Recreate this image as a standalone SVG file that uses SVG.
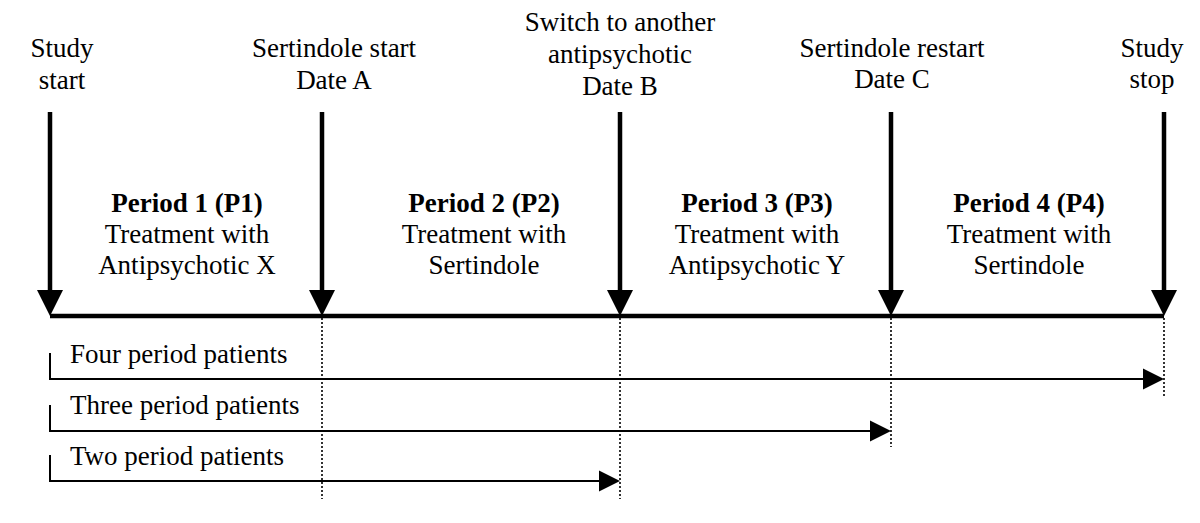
<svg xmlns="http://www.w3.org/2000/svg" width="1200" height="523" viewBox="0 0 1200 523">
<style>
text{font-family:"Liberation Serif","Times New Roman",serif;font-size:27px;fill:#000}
.c{text-anchor:middle}
.b{font-weight:bold}
.big{stroke:#000;stroke-width:4.5;fill:none}
.thin{stroke:#000;stroke-width:2;fill:none}
.dot{stroke:#000;stroke-width:1.6;stroke-dasharray:2 2;fill:none}
.head{fill:#000}
</style>
<rect width="1200" height="523" fill="#fff"/>
<g id="connectors">
  <line class="big" x1="50" y1="316" x2="1164" y2="316"/>
  <line class="big" x1="50" y1="112" x2="50" y2="292"/>
  <polygon class="head" points="37,290 63,290 50,316"/>
  <line class="big" x1="322" y1="112" x2="322" y2="292"/>
  <polygon class="head" points="309,290 335,290 322,316"/>
  <line class="big" x1="620" y1="112" x2="620" y2="292"/>
  <polygon class="head" points="607,290 633,290 620,316"/>
  <line class="big" x1="891" y1="112" x2="891" y2="292"/>
  <polygon class="head" points="878,290 904,290 891,316"/>
  <line class="big" x1="1164" y1="112" x2="1164" y2="292"/>
  <polygon class="head" points="1151,290 1177,290 1164,316"/>
  <line class="dot" x1="322" y1="318" x2="322" y2="499"/>
  <line class="dot" x1="620" y1="318" x2="620" y2="499"/>
  <line class="dot" x1="891" y1="318" x2="891" y2="447"/>
  <line class="dot" x1="1164" y1="318" x2="1164" y2="396"/>
  <polyline class="thin" points="50,353 50,379 1145,379"/>
  <polygon class="head" points="1143,368.5 1164,379 1143,389.5"/>
  <polyline class="thin" points="50,405 50,431 872,431"/>
  <polygon class="head" points="870,420.5 891,431 870,441.5"/>
  <polyline class="thin" points="50,455 50,481 601,481"/>
  <polygon class="head" points="599,470.5 620,481 599,491.5"/>
</g>
<g id="study-start"><text class="c" x="62" y="57">Study</text><text class="c" x="62" y="89">start</text></g>
<g id="date-a"><text class="c" x="334" y="57">Sertindole start</text><text class="c" x="334" y="89">Date A</text></g>
<g id="date-b"><text class="c" x="620" y="31">Switch to another</text><text class="c" x="620" y="63">antipsychotic</text><text class="c" x="620" y="95">Date B</text></g>
<g id="date-c"><text class="c" x="892" y="57">Sertindole restart</text><text class="c" x="892" y="88">Date C</text></g>
<g id="study-stop"><text class="c" x="1152" y="57">Study</text><text class="c" x="1152" y="88">stop</text></g>
<g id="period1"><text class="c b" x="187" y="212">Period 1 (P1)</text><text class="c" x="187" y="243">Treatment with</text><text class="c" x="187" y="274">Antipsychotic X</text></g>
<g id="period2"><text class="c b" x="484" y="212">Period 2 (P2)</text><text class="c" x="484" y="243">Treatment with</text><text class="c" x="484" y="274">Sertindole</text></g>
<g id="period3"><text class="c b" x="757" y="212">Period 3 (P3)</text><text class="c" x="757" y="243">Treatment with</text><text class="c" x="757" y="274">Antipsychotic Y</text></g>
<g id="period4"><text class="c b" x="1029" y="212">Period 4 (P4)</text><text class="c" x="1029" y="243">Treatment with</text><text class="c" x="1029" y="274">Sertindole</text></g>
<g id="four-period"><text x="70" y="363">Four period patients</text></g>
<g id="three-period"><text x="70" y="414">Three period patients</text></g>
<g id="two-period"><text x="70" y="465">Two period patients</text></g>
</svg>
